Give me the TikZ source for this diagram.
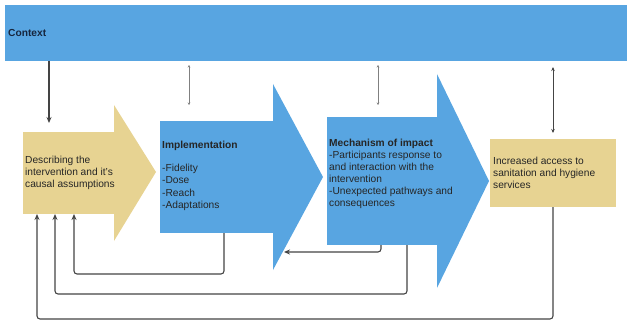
\documentclass[tikz,border=0pt]{standalone}
\usepackage{fontspec}
\setmainfont{Liberation Sans}
\usetikzlibrary{arrows.meta}

\definecolor{ctxblue}{RGB}{88,165,225}
\definecolor{sand}{RGB}{231,211,146}
\definecolor{lineg}{RGB}{68,68,68}
\definecolor{navy}{RGB}{22,38,62}

\tikzset{
  box/.style={rectangle, inner sep=0pt, outer sep=0pt, draw=none},
  txt/.style={anchor=west, align=left, inner sep=0pt, text=black!85,
    font=\fontsize{10.2}{12.3}\selectfont},
  flow/.style={draw=lineg, line width=1.1pt, rounded corners=3pt,
    -{Stealth[length=6pt,width=5pt]}},
  link/.style={draw=gray, line width=0.6pt,
    {Stealth[length=2.5pt,width=2.5pt]}-{Stealth[length=2.5pt,width=2.5pt]}},
  linkb/.style={draw=lineg, line width=0.7pt,
    {Stealth[length=4pt,width=3.5pt]}-{Stealth[length=4pt,width=3.5pt]}},
}

\begin{document}
\begin{tikzpicture}[x=1pt, y=-1pt]

    \useasboundingbox (0,0) rectangle (627,321);

    % Context bar
    \node[box, fill=ctxblue, minimum width=622pt, minimum height=56pt] (context) at (316,33) {};
    \node[txt, font=\fontsize{10.2}{12}\selectfont\bfseries, text=navy] (contextlbl) at (8,33) {Context};

    % Arrow bodies
    \node[box, fill=sand, minimum width=91pt, minimum height=82pt] (descr) at (68.5,173) {};
    \node[box, fill=ctxblue, minimum width=113pt, minimum height=112pt] (impl) at (216.5,177) {};
    \node[box, fill=ctxblue, minimum width=110pt, minimum height=128pt] (mech) at (382,181) {};
    \node[box, fill=sand, minimum width=126pt, minimum height=68pt] (access) at (553,173) {};

    % Arrow heads
    \fill[sand] (114,105) -- (156,172) -- (114,241) -- cycle;
    \fill[ctxblue] (273,84) -- (323,177) -- (273,270) -- cycle;
    \fill[ctxblue] (437,74) -- (489,181) -- (437,288) -- cycle;

    % Texts
    \node[txt] (descrlbl) at (25,173) {Describing the\\intervention and it's\\causal assumptions};
    \node[txt] (impllbl) at (162,176) {\textbf{Implementation}\\[10.7pt]-Fidelity\\-Dose\\-Reach\\-Adaptations};
    \node[txt, font=\fontsize{10.2}{12}\selectfont] (mechlbl) at (329,174) {\textbf{Mechanism of impact}\\-Participants response to\\and interaction with the\\intervention\\-Unexpected pathways and\\consequences};
    \node[txt] (accesslbl) at (493,173) {Increased access to\\sanitation and hygiene\\services};

    % Context links
    \coordinate (d0) at ([xshift=-19.5pt]descr.north);
    \coordinate (i0) at ([xshift=-27.5pt]impl.north);
    \coordinate (m0) at ([xshift=-4pt]mech.north);
    \draw[flow, line width=1.3pt, shorten >=9pt] (d0 |- context.south) -- (d0);
    \draw[link, shorten <=4pt, shorten >=16pt] (i0 |- context.south) -- (i0);
    \draw[link, shorten <=4pt, shorten >=12pt] (m0 |- context.south) -- (m0);
    \draw[linkb, shorten <=6pt, shorten >=6pt] (access.north |- context.south) -- (access.north);

    % Feedback loops
    \coordinate (implhead) at (284,252);
    \draw[flow] ([xshift=-1pt]mech.south) |- (implhead);
    \draw[flow] ([xshift=7.5pt]impl.south) -- ++(0,41) -| ([xshift=5.5pt]descr.south);
    \draw[flow] ([xshift=25pt]mech.south) -- ++(0,49) -| ([xshift=-13.5pt]descr.south);
    \draw[flow] (access.south) -- ++(0,112) -| ([xshift=-31.5pt]descr.south);

\end{tikzpicture}
\end{document}
